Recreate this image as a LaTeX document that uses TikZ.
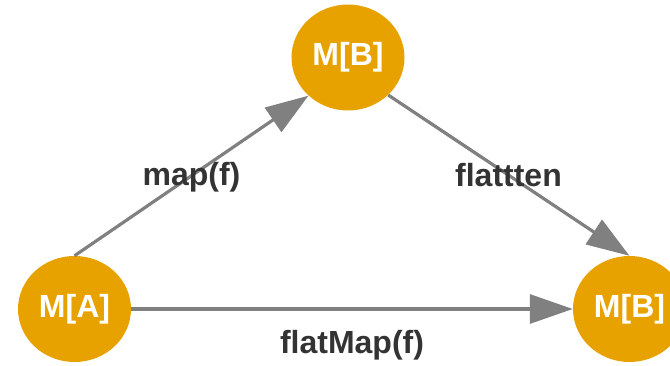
\documentclass[tikz,border=0pt]{standalone}
\usepackage{fontspec}
\setmainfont{Liberation Sans}
\usetikzlibrary{shapes.geometric,arrows.meta}
\definecolor{nodefill}{RGB}{232,162,0}
\definecolor{edgegray}{RGB}{128,128,128}
\definecolor{labelgray}{RGB}{51,51,51}
\tikzset{
  x=1pt, y=1pt,
  monad/.style={ellipse, fill=nodefill, draw=none, inner sep=0pt,
    minimum width=113pt, minimum height=106pt, text=white,
    font=\fontsize{32}{38}\selectfont\bfseries},
  conn/.style={draw=edgegray, line width=3.2pt,
    -{Triangle[length=43pt,width=29pt]}, fill=edgegray},
  lbl/.style={text=labelgray, anchor=base, inner sep=0pt,
    font=\fontsize{32}{38}\selectfont\bfseries}
}
\begin{document}
\begin{tikzpicture}
\useasboundingbox (0,0) rectangle (670,366);
\begin{scope}
\clip (0,0) rectangle (670,366);
\node[monad] (A) at (74.5,57) {M[A]};
\node[monad] (Btop) at (348,308.5) {M[B]};
\node[monad] (Bright) at (629.5,57) {M[B]};
\draw[conn] (A.north) -- (Btop.224.6);
\draw[conn] (Btop.-43) -- (Bright.north);
\draw[conn] (A.east) -- (Bright.west);
\end{scope}
\node[lbl] (l1) at (191.5,180) {map(f)};
\node[lbl] (l2) at (508.5,179) {flattten};
\node[lbl] (l3) at (352,12) {flatMap(f)};
\end{tikzpicture}
\end{document}
